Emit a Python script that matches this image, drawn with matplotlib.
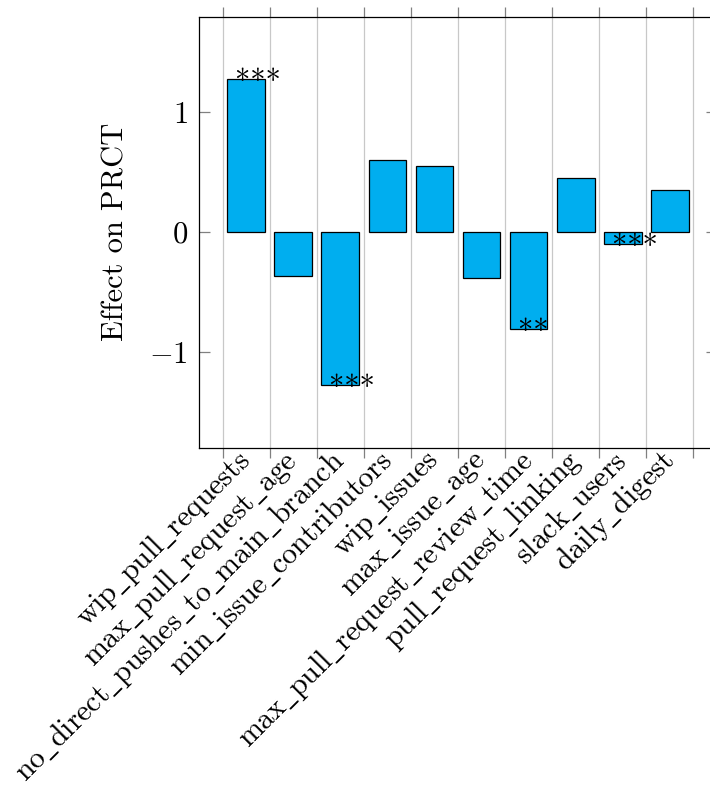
import matplotlib
matplotlib.use("Agg")
import matplotlib.pyplot as plt
from matplotlib.ticker import FixedLocator

plt.rcParams['font.family'] = 'cmr10'
plt.rcParams['mathtext.fontset'] = 'cm'
plt.rcParams['axes.formatter.use_mathtext'] = True
plt.rcParams['font.size'] = 22

features = ['wip_pull_requests', 'max_pull_request_age', 'no_direct_pushes_to_main_branch',
            'min_issue_contributors', 'wip_issues', 'max_issue_age',
            'max_pull_request_review_time', 'pull_request_linking', 'slack_users', 'daily_digest']
effects = [1.28, -0.37, -1.28, 0.60, 0.55, -0.385, -0.81, 0.45, -0.10, 0.35]
signif = ['***', '', '***', '', '', '', '**', '', '***', '']

fig = plt.figure(figsize=(7.1, 7.9), dpi=100)
ax = fig.add_axes([0.2803, 0.4333, 0.7296, 0.5456])

xs = list(range(len(features)))
ax.bar(xs, effects, width=0.8, color='#00aeef', edgecolor='black', linewidth=0.9, zorder=3)

for x, v, s in zip(xs, effects, signif):
    if s:
        ax.annotate(s, (x, v), xytext=(-8, -8.5), textcoords='offset points',
                    ha='left', va='baseline', fontsize=22, zorder=4)

# cmr10 has a dot accent where '_' sits, so write the names through mathtext
labels = ['$\\mathrm{' + f.replace('_', '\\_') + '}$' for f in features]

ax.set_xlim(-1, 10)
ax.set_ylim(-1.8, 1.8)
ax.set_xticks(xs)
ax.set_xticklabels(labels, rotation=45, ha='right', va='center', rotation_mode='anchor',
                   fontsize=21.5)
ax.xaxis.set_minor_locator(FixedLocator([x - 0.5 for x in xs] + [len(xs) - 0.5]))
ax.tick_params(axis='x', which='major', length=0, pad=6)
ax.tick_params(axis='x', which='minor', direction='out', length=7.5, width=0.9,
               color='#808080', top=True, bottom=True)
ax.grid(which='minor', axis='x', color='#c8c8c8', linewidth=0.9, zorder=0)

ax.set_yticks([-1, 0, 1])
ax.tick_params(axis='y', direction='in', length=7.7, width=0.9, color='#808080',
               left=True, right=True, pad=8)
ax.set_ylabel('Effect on PRCT', labelpad=14)

for sp in ax.spines.values():
    sp.set_linewidth(0.9)

fig.savefig('out.png', dpi=100)
